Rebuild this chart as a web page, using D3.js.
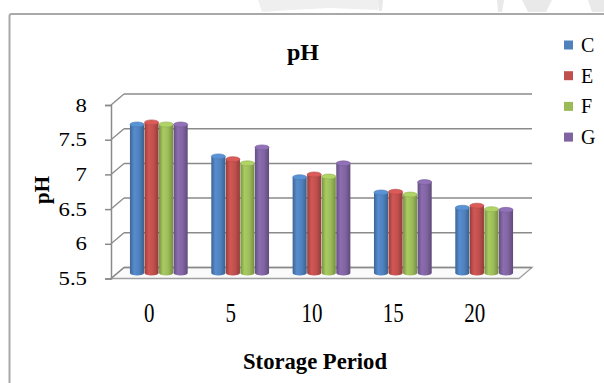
<!DOCTYPE html>
<html>
<head>
<meta charset="utf-8">
<script src="https://cdn.jsdelivr.net/npm/d3@7"></script>
<style>
  html, body { margin: 0; padding: 0; background: #ffffff; }
  svg { display: block; }
</style>
</head>
<body>
<svg id="chart" width="604" height="383"></svg>
<script>
// pH over storage period for four treatments
const categories = ["0", "5", "10", "15", "20"];
const seriesNames = ["C", "E", "F", "G"];
const valuesC = [7.64, 7.18, 6.88, 6.66, 6.44];
const valuesE = [7.67, 7.14, 6.92, 6.67, 6.47];
const valuesF = [7.64, 7.08, 6.89, 6.63, 6.42];
const valuesG = [7.64, 7.31, 7.08, 6.81, 6.41];
const yTicks = [5.5, 6, 6.5, 7, 7.5, 8];
const seriesColors = ["#4f81bd", "#c0504d", "#9bbb59", "#8064a2"];

const series = [valuesC, valuesE, valuesF, valuesG].map((vals, i) => ({
  name: seriesNames[i], color: seriesColors[i], values: vals
}));

const serif = "'Liberation Serif', 'Times New Roman', serif";
const svg = d3.select("#chart");
const defs = svg.append("defs");

// faint shapes peeking in above the frame
const deco = svg.append("g").attr("fill", "#e9e9e9");
deco.append("path").attr("d", "M258,0 L300,0 L380,0 L378,10 L330,8 L290,10 L262,12 Z").attr("fill", "#efefef");
deco.append("path").attr("d", "M378,0 L383,0 L382,11 L379,11 Z");
deco.append("path").attr("d", "M497,0 L504,0 L502,12 L498,12 Z");
deco.append("path").attr("d", "M522,0 L552,0 L546,12 L528,12 Z");
deco.append("path").attr("d", "M588,0 L604,0 L604,12 L592,12 Z");

// chart frame
svg.append("rect")
  .attr("x", 9.5).attr("y", 14)
  .attr("width", 640).attr("height", 420)
  .attr("rx", 2)
  .attr("fill", "#ffffff")
  .attr("stroke", "#a9a9a9")
  .attr("stroke-width", 2);

// geometry of the 3D box
const frontLeft = 111, frontRight = 519;
const depth = { dx: 13, dy: -11 };
const y = d3.scaleLinear().domain([5.5, 8]).range([278.5, 105]);
const x0 = d3.scaleBand().domain(categories).range([frontLeft, frontRight])
  .paddingInner(0.29).paddingOuter(0.153);
const x1 = d3.scaleBand().domain(seriesNames).range([0, x0.bandwidth()]).paddingInner(0.03);

const gridColor = "#8a8a8a";
const box = svg.append("g");

// floor
box.append("path")
  .attr("d", `M${frontLeft},${y(5.5)} L${frontRight},${y(5.5)} L${frontRight + depth.dx},${y(5.5) + depth.dy} L${frontLeft + depth.dx},${y(5.5) + depth.dy} Z`)
  .attr("fill", "#fafafa")
  .attr("stroke", "#a0a0a0")
  .attr("stroke-width", 1.3);

// back wall gridlines
box.selectAll("line.grid").data(yTicks).join("line")
  .attr("class", "grid")
  .attr("x1", frontLeft + depth.dx).attr("x2", frontRight + depth.dx)
  .attr("y1", d => y(d) + depth.dy).attr("y2", d => y(d) + depth.dy)
  .attr("stroke", gridColor).attr("stroke-width", 1.5);

// side wall gridlines
box.selectAll("line.side").data(yTicks).join("line")
  .attr("class", "side")
  .attr("x1", frontLeft).attr("x2", frontLeft + depth.dx)
  .attr("y1", d => y(d)).attr("y2", d => y(d) + depth.dy)
  .attr("stroke", gridColor).attr("stroke-width", 1.3);

// front value axis
const yAxis = d3.axisLeft(y).tickValues(yTicks).tickSize(6).tickPadding(18)
  .tickFormat(d3.format("~g"));
const yAxisG = svg.append("g").attr("transform", `translate(${frontLeft},0)`).call(yAxis);
yAxisG.attr("font-family", serif);
yAxisG.select(".domain").attr("stroke", gridColor).attr("stroke-width", 1.5);
yAxisG.selectAll(".tick line").attr("stroke", gridColor).attr("stroke-width", 1.5);
yAxisG.selectAll(".tick text")
  .attr("font-family", serif)
  .attr("font-size", 19)
  .attr("fill", "#000")
  .attr("x", 0)
  .attr("transform", "translate(-24,0) scale(1.2,1)");

// category axis (labels on the front edge)
const xAxis = d3.axisBottom(x0).tickSize(0).tickPadding(0);
const xAxisG = svg.append("g").attr("transform", `translate(0,${y(5.5)})`).call(xAxis);
xAxisG.attr("font-family", serif);
xAxisG.select(".domain").remove();
xAxisG.selectAll(".tick text")
  .attr("font-family", serif)
  .attr("font-size", 21)
  .attr("fill", "#000")
  .attr("dy", 0)
  .attr("y", 0)
  .attr("transform", "translate(-3,43) scale(1,1.25)");

// cylinder gradients
series.forEach((s, i) => {
  const base = d3.color(s.color);
  const g = defs.append("linearGradient").attr("id", "cyl" + i)
    .attr("x1", "0%").attr("x2", "100%").attr("y1", "0%").attr("y2", "0%");
  g.append("stop").attr("offset", "0%").attr("stop-color", base.darker(0.7));
  g.append("stop").attr("offset", "30%").attr("stop-color", base.brighter(0.25));
  g.append("stop").attr("offset", "65%").attr("stop-color", base);
  g.append("stop").attr("offset", "100%").attr("stop-color", base.darker(0.8));
});

// bars sit half way into the depth of the box
const mid = { dx: depth.dx / 2, dy: depth.dy / 2 };
const ry = 2.5;
const barData = [];
categories.forEach((c, ci) => {
  series.forEach((s, si) => {
    barData.push({ cat: c, name: s.name, idx: si, value: s.values[ci], color: s.color });
  });
});

const bars = svg.append("g").attr("transform", `translate(${mid.dx},${mid.dy})`);
const barG = bars.selectAll("g.bar").data(barData).join("g").attr("class", "bar");

barG.each(function (d) {
  const g = d3.select(this);
  const w = x1.bandwidth();
  const xl = x0(d.cat) + x1(d.name);
  const cx = xl + w / 2;
  const yt = y(d.value);
  const yb = y(5.5);
  // body with rounded bottom
  g.append("path")
    .attr("d", `M${xl},${yt} L${xl},${yb} A${w / 2},${ry} 0 0 0 ${xl + w},${yb} L${xl + w},${yt} Z`)
    .attr("fill", `url(#cyl${d.idx})`);
  // top cap
  g.append("ellipse")
    .attr("cx", cx).attr("cy", yt)
    .attr("rx", w / 2).attr("ry", ry)
    .attr("fill", d3.color(d.color).brighter(0.35))
    .attr("stroke", d3.color(d.color).darker(0.2))
    .attr("stroke-width", 0.6);
});

// titles
svg.append("text")
  .attr("x", 303).attr("y", 60)
  .attr("text-anchor", "middle")
  .attr("font-family", serif)
  .attr("font-weight", "bold")
  .attr("font-size", 24)
  .text("pH");

svg.append("text")
  .attr("transform", "translate(49,190) rotate(-90)")
  .attr("text-anchor", "middle")
  .attr("font-family", serif)
  .attr("font-weight", "bold")
  .attr("font-size", 21)
  .text("pH");

svg.append("text")
  .attr("x", 315).attr("y", 369)
  .attr("text-anchor", "middle")
  .attr("font-family", serif)
  .attr("font-weight", "bold")
  .attr("font-size", 24)
  .attr("textLength", 144)
  .attr("lengthAdjust", "spacingAndGlyphs")
  .text("Storage Period");

// legend
const legend = svg.append("g").attr("transform", "translate(564,45)");
const legItem = legend.selectAll("g").data(series).join("g")
  .attr("transform", (d, i) => `translate(0,${i * 30.7})`);
legItem.append("rect")
  .attr("x", 0).attr("y", -4.5).attr("width", 9).attr("height", 9)
  .attr("fill", d => d.color);
legItem.append("text")
  .attr("x", 17).attr("y", 0).attr("dy", "0.35em")
  .attr("font-family", serif)
  .attr("font-size", 20)
  .text(d => d.name);
</script>
</body>
</html>
